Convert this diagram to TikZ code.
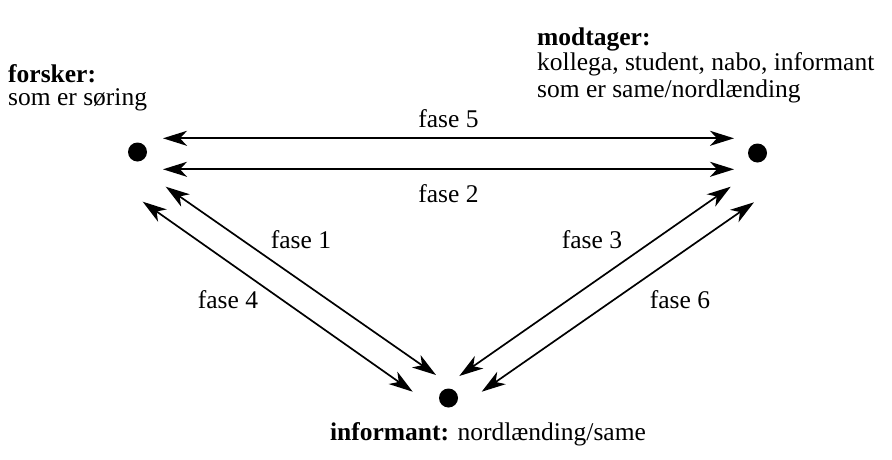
\documentclass[tikz,border=0pt]{standalone}
\usepackage{fontspec}
\setmainfont{Liberation Serif}
\usetikzlibrary{arrows.meta}
\begin{document}
\begin{tikzpicture}[x=1pt,y=-1pt,
  dot/.style={circle,fill=black,inner sep=0pt,minimum size=19pt},
  arr/.style={line width=1.7pt,{Stealth[length=24pt,width=15pt,inset=7pt]}-{Stealth[length=24pt,width=15pt,inset=7pt]}},
  lbl/.style={font=\fontsize{25.5}{26}\selectfont,inner sep=0pt},
  txt/.style={font=\fontsize{25.5}{26}\selectfont,inner sep=0pt,anchor=base west}]
\useasboundingbox (0,0) rectangle (892,459);
\node[dot] (F) at (137.5,152) {};
\node[dot] (M) at (757.5,153) {};
\node[dot] (I) at (448.5,398) {};
% arrow ends
\coordinate (a5l) at (163,138.3);
\coordinate (a5r) at (734,138.3);
\coordinate (a2l) at (163,169.3);
\coordinate (a2r) at (734,169.3);
\coordinate (a1a) at (165.7,186.7);
\coordinate (a1b) at (436,375);
\coordinate (a4a) at (142.7,201.7);
\coordinate (a4b) at (412.7,391.7);
\coordinate (a3a) at (459.3,376);
\coordinate (a3b) at (730.7,186.7);
\coordinate (a6a) at (481.7,391.7);
\coordinate (a6b) at (754,202.3);
\draw[arr] (a5l) -- (a5r);
\draw[arr] (a2l) -- (a2r);
\draw[arr] (a1a) -- (a1b);
\draw[arr] (a4a) -- (a4b);
\draw[arr] (a3a) -- (a3b);
\draw[arr] (a6a) -- (a6b);
\node[lbl] (l5) at (448.5,119) {fase 5};
\node[lbl] (l2) at (448.5,194) {fase 2};
\node[lbl] (l1) at (301,240) {fase 1};
\node[lbl] (l3) at (592,240) {fase 3};
\node[lbl] (l4) at (228,300) {fase 4};
\node[lbl] (l6) at (680,300) {fase 6};
\node[txt] (f1) at (8,82) {\textbf{forsker:}};
\node[txt] (f2) at (8,105) {som er søring};
\node[txt] (m1) at (537,45) {\textbf{modtager:}};
\node[txt] (m2) at (537,70) {kollega, student, nabo, informant};
\node[txt] (m3) at (537,97) {som er same/nordlænding};
\node[lbl,anchor=base] (it) at (488,440) {\textbf{informant:} nordlænding/same};
\end{tikzpicture}
\end{document}
